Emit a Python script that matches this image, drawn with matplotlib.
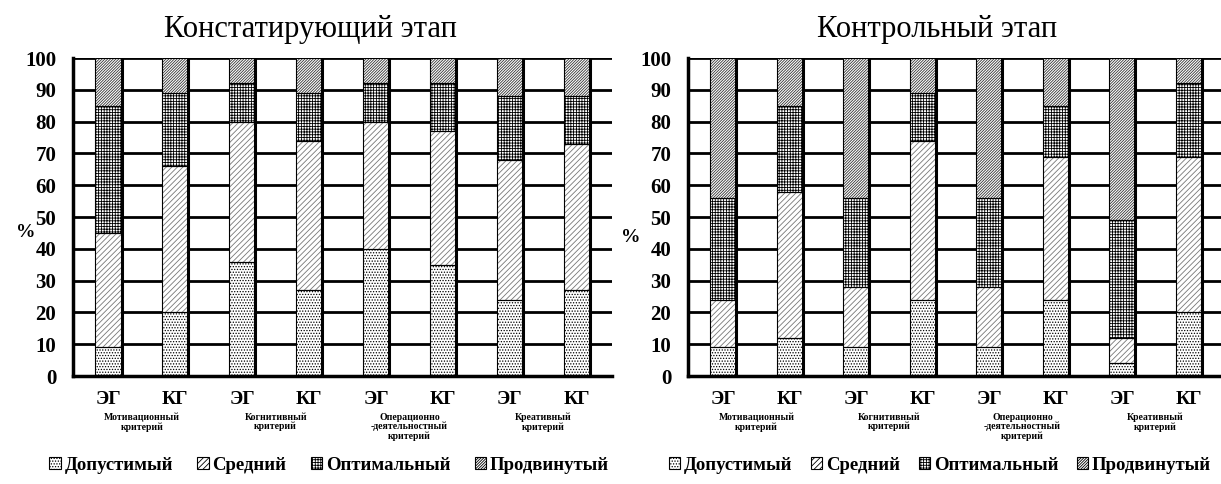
import matplotlib.pyplot as plt
import numpy as np
from matplotlib.patches import Patch
from matplotlib.transforms import blended_transform_factory

plt.rcParams['font.family'] = ['Liberation Serif', 'DejaVu Serif']
plt.rcParams['hatch.linewidth'] = 0.6

groups = ['ЭГ', 'КГ'] * 4
criteria = ['Мотивационный\nкритерий', 'Когнитивный\nкритерий',
            'Операционно\n-деятельностный\nкритерий', 'Креативный\nкритерий']
levels = ['Допустимый', 'Средний', 'Оптимальный', 'Продвинутый']

# констатирующий этап, % учащихся по уровням
start_dop = [9, 20, 36, 27, 40, 35, 24, 27]
start_sred = [36, 46, 44, 47, 40, 42, 44, 46]
start_opt = [40, 23, 12, 15, 12, 15, 20, 15]
start_prod = [15, 11, 8, 11, 8, 8, 12, 12]

# контрольный этап
end_dop = [9, 12, 9, 24, 9, 24, 4, 20]
end_sred = [15, 46, 19, 50, 19, 45, 8, 49]
end_opt = [32, 27, 28, 15, 28, 16, 37, 23]
end_prod = [44, 15, 44, 11, 44, 15, 51, 8]

# штриховки уровней: (узор, цвет штриховки)
styles = [('.' * 6, 'black'), ('/' * 6, '#777777'),
          ('+' * 6, 'black'), ('/' * 12, '#333333')]


def draw(ax, title, series, title_x, legend_x, colsp):
    x = np.arange(len(groups))
    w = 0.39
    ax.set_xlim(-0.53, 7.53)
    ax.set_ylim(0, 100)
    ax.set_yticks(range(0, 101, 10))
    ax.yaxis.grid(True, color='black', lw=2)
    ax.set_axisbelow(True)

    bottom = np.zeros(len(groups))
    for vals, (h, hc) in zip(series, styles):
        vals = np.array(vals, dtype=float)
        ax.bar(x, vals, w, bottom=bottom, color='white', edgecolor=hc,
               hatch=h, lw=0, zorder=2)
        ax.bar(x, vals, w, bottom=bottom, fill=False, edgecolor='black',
               lw=0.8, zorder=3)
        bottom += vals
    ax.vlines(x + w / 2, 0, 100, color='black', lw=2.2, zorder=4)

    for s in ['top', 'right']:
        ax.spines[s].set_visible(False)
    ax.spines['left'].set_linewidth(2.5)
    ax.spines['bottom'].set_linewidth(2.5)
    ax.tick_params(length=0, pad=12)
    ax.set_xticks(x)
    ax.set_xticklabels(groups, fontsize=14, fontweight='bold')
    ax.tick_params(axis='x', pad=11)
    for lab in ax.get_yticklabels():
        lab.set_fontsize(15)
        lab.set_fontweight('bold')

    tr = blended_transform_factory(ax.transData, ax.transAxes)
    for i, c in enumerate(criteria):
        ax.text(2 * i + 0.5, -0.115, c, transform=tr, ha='center', va='top',
                fontsize=7, fontweight='bold', linespacing=1.05)

    ax.text(title_x, 1.09, title, transform=ax.transAxes, ha='center',
            va='center', fontsize=22)

    handles = [Patch(facecolor='white', edgecolor='black', hatch=h, lw=0.8)
               for h, _ in styles]
    ax.legend(handles, levels, loc='center', bbox_to_anchor=(legend_x, -0.28),
              ncol=4, frameon=False, handlelength=0.6, handleheight=0.6,
              handletextpad=0.2, columnspacing=colsp,
              prop={'size': 13.5, 'weight': 'bold'})


fig = plt.figure(figsize=(12.21, 4.84), dpi=100)
ax1 = fig.add_axes([0.0598, 0.2231, 0.4415, 0.657])
ax2 = fig.add_axes([0.5635, 0.2231, 0.439, 0.657])

draw(ax1, 'Констатирующий этап', [start_dop, start_sred, start_opt, start_prod], 0.44, 0.475, 1.3)
draw(ax2, 'Контрольный этап', [end_dop, end_sred, end_opt, end_prod], 0.465, 0.47, 1.0)

ax1.set_ylabel('%', rotation=0, fontsize=14, fontweight='bold', va='center', ha='center')
ax2.set_ylabel('%', rotation=0, fontsize=14, fontweight='bold', va='center', ha='center')
ax1.yaxis.set_label_coords(-0.088, 0.45)
ax2.yaxis.set_label_coords(-0.107, 0.435)

fig.savefig('out.png', dpi=100)
